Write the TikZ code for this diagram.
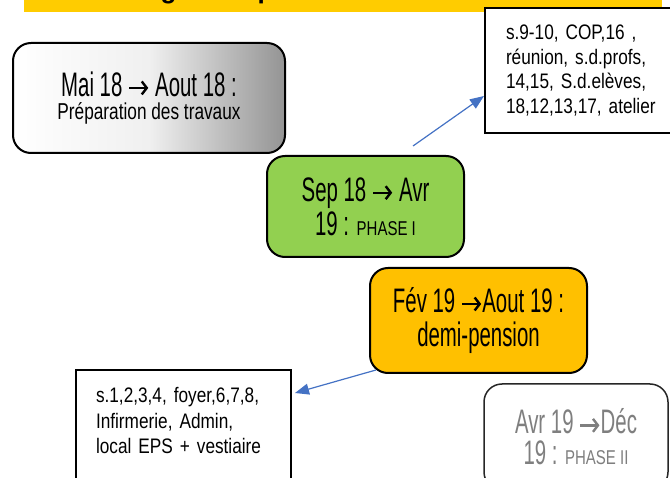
\documentclass[tikz,border=0pt]{standalone}
\usepackage{fontspec}
\setmainfont{Liberation Sans}
\newfontfamily\agency[FakeStretch=0.6]{Liberation Sans}
\newfontfamily\agencyS[FakeStretch=0.75]{Liberation Sans}
\newfontfamily\narrow[FakeStretch=0.82]{Liberation Sans}
\usetikzlibrary{arrows.meta,positioning}
\newcommand{\fleche}[1][black]{\tikz[baseline=0pt]\draw[#1,line width=2.4pt,-{Straight Barb[length=5pt,width=13pt,line width=2.4pt]}] (0pt,8.5pt) -- (19pt,8.5pt);}
\definecolor{vert}{HTML}{92D050}
\definecolor{ambre}{HTML}{FFC000}
\definecolor{jaune}{HTML}{FFCC00}
\definecolor{bleu}{HTML}{4472C4}
\definecolor{gris}{HTML}{7F7F7F}

\begin{document}
\begin{tikzpicture}[x=1pt,y=-1pt,
    phase/.style={draw=black,line width=2pt,rounded corners=18pt,inner sep=0pt,align=center,font=\agency\fontsize{34}{34}\selectfont},
    liste/.style={draw=black,line width=2pt,fill=white,inner xsep=20pt,align=left,anchor=north west,font=\narrow\fontsize{21}{25}\selectfont},
    fleche/.style={draw=bleu,line width=1.2pt,-{Triangle[length=14pt,width=11pt]}}]
    \useasboundingbox (0,0) rectangle (670,478);
    \clip (0,0) rectangle (670,478);

    \fill[jaune] (24,-20) rectangle (662,12);
    \node[anchor=base west,inner sep=0pt,font=\bfseries\fontsize{26}{26}\selectfont] (titre) at (45,-1) {Chronologie des phases};

    \node[liste,text width=200pt,inner xsep=21pt,minimum height=125pt,font=\narrow\fontsize{21}{24.7}\selectfont] (salles1) at (484,7) {s.9-10, COP,16 ,\\réunion, s.d.profs,\\14,15, S.d.elèves,\\18,12,13,17, atelier};
    \node[liste,text width=175pt,inner ysep=17.5pt,text depth=70pt,font=\narrow\fontsize{21}{25.5}\selectfont] (salles2) at (75,369) {s.1,2,3,4, foyer,6,7,8,\\Infirmerie, Admin,\\local EPS + vestiaire};

    \node[phase,minimum width=272pt,minimum height=110pt,left color=white,right color=black!42,middle color=black!6,font=\agency\fontsize{34}{23}\selectfont] (phase0) at (149,98) {Mai 18 \fleche{} Aout 18 :\\{\agencyS\fontsize{23}{23}\selectfont Préparation des travaux}};
    \node[phase,fill=vert,minimum width=197pt,minimum height=101pt] (phase1) at (365.5,206.5) {Sep 18 \fleche{} Avr\\19 : {\agencyS\fontsize{20}{20}\selectfont PHASE I}};
    \node[phase,fill=ambre,minimum width=217pt,minimum height=105pt] (demi) at (478.5,320.5) {Fév 19 \fleche{}Aout 19 :\\demi-pension};
    \node[phase,draw=black!85,line width=1.5pt,text=gris,fill=white,minimum width=184pt,minimum height=106pt,font=\agency\fontsize{34}{31}\selectfont] (phase2) at (576,437) {Avr 19 \fleche[gris]{}Déc\\19 : {\agencyS\fontsize{20}{20}\selectfont PHASE II}};

    \coordinate (depart) at (413,146);
    \draw[fleche] (depart) -- ([yshift=-25.5pt]salles1.west);
    \draw[fleche] ([shift={(7pt,4pt)}]demi.south west) -- ([shift={(3pt,-24pt)}]salles2.north east);
\end{tikzpicture}
\end{document}
